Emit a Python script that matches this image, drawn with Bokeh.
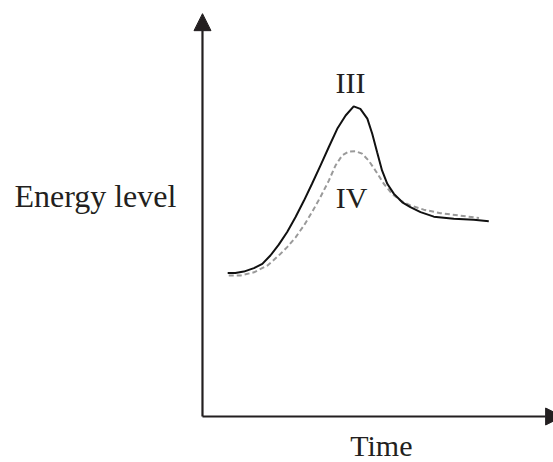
from bokeh.plotting import figure
from bokeh.models import Arrow, NormalHead, Label, Range1d
from bokeh.embed import file_html
from bokeh.resources import INLINE

# Curve III (solid) - arbitrary units: time, energy
time_iii = [7.2, 9.4, 11.8, 14.7, 17.1, 19.4, 21.8, 24.2, 26.6, 29.0, 31.3, 33.7, 36.1,
            38.5, 40.9, 43.2, 45.1, 47.1, 48.5, 49.9, 51.3, 52.8, 54.7, 57.1, 59.4,
            62.3, 66.1, 71.8, 77.5, 81.8]
energy_iii = [41.0, 41.0, 41.4, 42.4, 43.6, 46.0, 49.1, 52.7, 57.0, 61.7, 66.5, 71.7, 77.0,
              82.2, 86.0, 88.6, 87.9, 85.1, 80.8, 75.5, 70.3, 66.5, 63.6, 61.2, 59.8,
              58.4, 57.1, 56.5, 56.2, 55.8]

# Curve IV (dashed)
time_iv = [7.5, 10.9, 14.7, 18.5, 21.8, 24.2, 26.6, 29.0, 31.3, 33.7, 36.1, 38.0, 39.9,
           41.8, 43.7, 45.6, 47.5, 49.4, 51.8, 54.2, 56.6, 59.4, 63.2, 68.0, 73.7, 79.0]
energy_iv = [40.3, 40.3, 41.2, 43.1, 46.0, 48.4, 51.2, 54.6, 58.4, 62.7, 67.4, 71.7, 74.6,
             75.7, 75.8, 75.1, 73.1, 70.3, 66.5, 63.6, 61.7, 60.3, 59.1, 58.1, 57.4, 56.7]

curve_labels = ["III", "IV"]
x_title = "Time"
y_title = "Energy level"

INK = "#231f20"
FONT = "Liberation Serif"

p = figure(width=553, height=462, output_backend="svg", toolbar_location=None,
           x_axis_type=None, y_axis_type=None, min_border=0,
           x_range=Range1d(-57.71, 100.29), y_range=Range1d(-13.14, 118.86))
p.grid.visible = False
p.outline_line_color = None
p.background_fill_color = "white"
p.border_fill_color = "white"

# axes with arrows
p.add_layout(Arrow(end=NormalHead(size=17, fill_color=INK, line_color=INK, line_width=1),
                   x_start=0, y_start=0, x_end=0, y_end=115.1,
                   line_width=2.2, line_color=INK))
p.add_layout(Arrow(end=NormalHead(size=17, fill_color=INK, line_color=INK, line_width=1),
                   x_start=0, y_start=0, x_end=102.9, y_end=0,
                   line_width=2.2, line_color=INK))

p.line(time_iv, energy_iv, line_color="#9a9a9a", line_width=2, line_dash="5 3")
p.line(time_iii, energy_iii, line_color="#111111", line_width=2)

def lab(txt, x, y, size="30px", align="center"):
    p.add_layout(Label(x=x, y=y, text=txt, text_font=FONT, text_font_size=size,
                       text_color=INK, text_align=align, text_baseline="alphabetic"))

lab(curve_labels[0], 42.3, 95.3)
lab(curve_labels[1], 42.6, 62.7)
lab(y_title, -30.6, 63.0, size="32px")
lab(x_title, 51.1, -8.2)

open("out.html", "w").write(file_html(p, INLINE))
